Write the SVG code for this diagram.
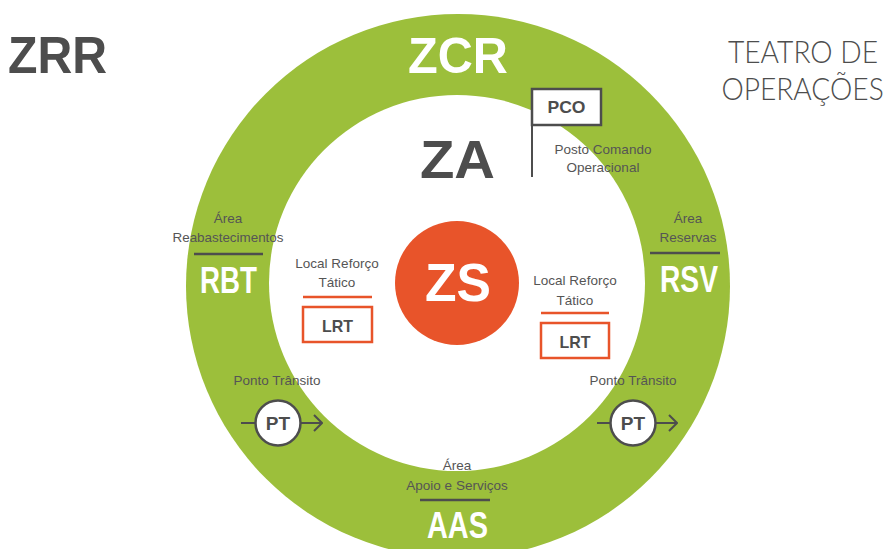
<svg xmlns="http://www.w3.org/2000/svg" width="889" height="549" viewBox="0 0 889 549">
<style>
.b{font-family:"Liberation Sans",Arial,sans-serif;font-weight:bold;text-anchor:middle}
.w{fill:#ffffff}
.d{fill:#4d4d4d}
.s{font-family:"Liberation Sans",Arial,sans-serif;font-size:13.5px;fill:#555555;text-anchor:middle}
.t{font-family:"Lato","Liberation Sans",sans-serif;font-weight:300;font-size:32px;fill:#4d4d4d;text-anchor:middle}
.rule{stroke:#4d4d4d;stroke-width:2.5}
.orule{stroke:#e8542a;stroke-width:2.5}
.box{fill:#ffffff;stroke:#e8542a;stroke-width:2.5}
.pt{fill:#ffffff;stroke:#4d4d4d;stroke-width:2.5}
.ln{stroke:#4d4d4d;stroke-width:2;fill:none}
</style>
<defs>
<marker id="chev" viewBox="0 0 10 18" refX="9" refY="9" markerWidth="10" markerHeight="18" markerUnits="userSpaceOnUse" orient="auto">
<path d="M1,1 L9,9 L1,17" fill="none" stroke="#4d4d4d" stroke-width="2"/>
</marker>
</defs>
<rect width="889" height="549" fill="#ffffff"/>
<g id="ring">
<circle cx="458" cy="286" r="272" fill="#9cbf3b"/>
<circle cx="457" cy="283" r="188" fill="#ffffff"/>
</g>
<g id="zrr"><text class="b d" x="57.5" y="73" font-size="52" textLength="99" lengthAdjust="spacingAndGlyphs">ZRR</text></g>
<g id="teatro" transform="scale(0.88,1)">
<text class="t" x="912.5" y="63">TEATRO DE</text>
<text class="t" x="912" y="100">OPERAÇÕES</text>
</g>
<g id="zcr"><text class="b w" x="458" y="73" font-size="50" textLength="100" lengthAdjust="spacingAndGlyphs">ZCR</text></g>
<g id="za"><text class="b d" x="457.5" y="178" font-size="54" textLength="75" lengthAdjust="spacingAndGlyphs">ZA</text></g>
<g id="zs">
<circle cx="457" cy="283" r="62" fill="#e8542a"/>
<text class="b w" x="458" y="301" font-size="54" textLength="66" lengthAdjust="spacingAndGlyphs">ZS</text>
</g>
<g id="pco">
<line x1="532" y1="89" x2="532" y2="177" class="ln" stroke-width="2.5"/>
<rect x="532" y="89" width="69" height="36" fill="#ffffff" stroke="#4d4d4d" stroke-width="2.5"/>
<text class="b d" x="566.5" y="113" font-size="17" textLength="38" lengthAdjust="spacingAndGlyphs">PCO</text>
<text class="s" x="603" y="154">Posto Comando</text>
<text class="s" x="603" y="172">Operacional</text>
</g>
<g id="rbt">
<text class="s" x="228" y="223">Área</text>
<text class="s" x="228" y="242" textLength="111" lengthAdjust="spacingAndGlyphs">Reabastecimentos</text>
<line x1="194" y1="254" x2="263" y2="254" class="rule"/>
<text class="b w" x="228.5" y="293" font-size="36" textLength="57" lengthAdjust="spacingAndGlyphs">RBT</text>
</g>
<g id="rsv">
<text class="s" x="688" y="223">Área</text>
<text class="s" x="688" y="242">Reservas</text>
<line x1="650" y1="253" x2="720" y2="253" class="rule"/>
<text class="b w" x="689" y="292" font-size="36" textLength="58" lengthAdjust="spacingAndGlyphs">RSV</text>
</g>
<g id="lrt-left">
<text class="s" x="337" y="268">Local Reforço</text>
<text class="s" x="337" y="287">Tático</text>
<line x1="303" y1="297" x2="372" y2="297" class="orule"/>
<rect x="303" y="307" width="69" height="35" class="box"/>
<text class="b d" x="337.5" y="332" font-size="17" textLength="31" lengthAdjust="spacingAndGlyphs">LRT</text>
</g>
<g id="lrt-right">
<text class="s" x="575" y="285">Local Reforço</text>
<text class="s" x="575" y="305">Tático</text>
<line x1="541" y1="313" x2="609" y2="313" class="orule"/>
<rect x="541" y="323" width="68" height="35" class="box"/>
<text class="b d" x="575" y="348" font-size="17" textLength="31" lengthAdjust="spacingAndGlyphs">LRT</text>
</g>
<g id="connectors">
<line x1="241" y1="423" x2="255" y2="423" class="ln"/>
<line x1="301" y1="423" x2="322" y2="423" class="ln" marker-end="url(#chev)"/>
<line x1="597" y1="423" x2="610" y2="423" class="ln"/>
<line x1="656" y1="423" x2="677" y2="423" class="ln" marker-end="url(#chev)"/>
</g>
<g id="pt-left">
<text class="s" x="277" y="385">Ponto Trânsito</text>
<circle cx="278" cy="423" r="22.5" class="pt"/>
<text class="b d" x="278" y="430" font-size="19">PT</text>
</g>
<g id="pt-right">
<text class="s" x="633" y="385">Ponto Trânsito</text>
<circle cx="633" cy="423" r="22.5" class="pt"/>
<text class="b d" x="633" y="430" font-size="19">PT</text>
</g>
<g id="aas">
<text class="s" x="457" y="470">Área</text>
<text class="s" x="457" y="490">Apoio e Serviços</text>
<line x1="420" y1="500" x2="490" y2="500" class="rule"/>
<text class="b w" x="457.5" y="538" font-size="36" textLength="61" lengthAdjust="spacingAndGlyphs">AAS</text>
</g>
</svg>
